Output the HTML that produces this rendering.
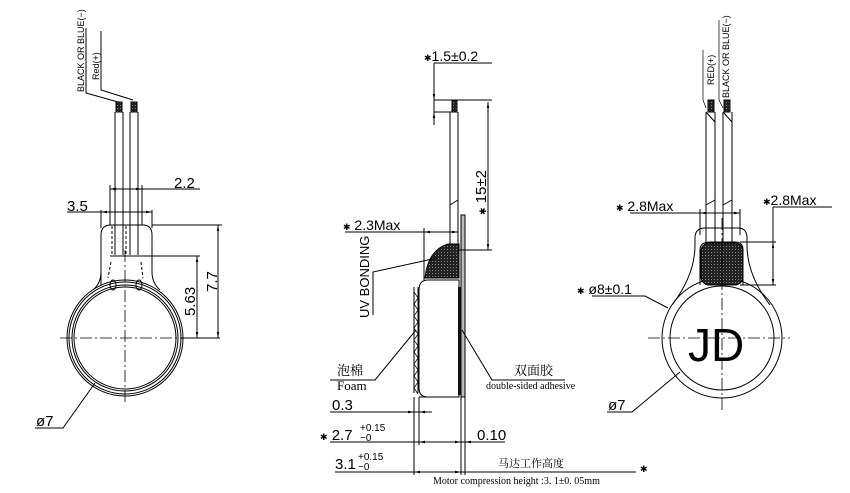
<!DOCTYPE html>
<html><head><meta charset="utf-8"><style>
html,body{margin:0;padding:0;background:#fff;width:850px;height:493px;overflow:hidden}
svg{display:block}
text{font-family:"Liberation Sans","Noto Sans CJK SC",sans-serif;fill:#000}
.s{font-family:"Liberation Serif","Noto Serif CJK SC",serif}
.k{font-size:9px}
</style></head><body>
<svg width="850" height="493" viewBox="0 0 850 493" xmlns="http://www.w3.org/2000/svg">
<defs>
<marker id="a" viewBox="0 0 10 10" refX="10" refY="5" markerWidth="6" markerHeight="6" orient="auto-start-reverse"><path d="M0,3 L10,5 L0,7z" fill="#000"/></marker>
<pattern id="h" width="3" height="3" patternUnits="userSpaceOnUse"><rect width="3" height="3" fill="#222"/><rect width="1" height="1" fill="#888"/></pattern>
</defs>
<g fill="none" stroke="#000" stroke-width="1">
<!-- LEFT VIEW -->
<path d="M86,28 V93 L118,102"/><path d="M101,31 V90 L133,100"/>
<rect x="116" y="102" width="6" height="10" fill="url(#h)"/><rect x="131" y="102" width="6" height="10" fill="url(#h)"/>
<path d="M115,112 V255 M123,112 V255 M130,112 V255 M138,112 V255"/>
<path d="M110,185 V225 M142,185 V225"/>
<path d="M110,189 H200" marker-start="url(#a)"/><path d="M142,189 H110" marker-end="url(#a)" marker-start="url(#a)"/>
<path d="M67,212 H152" /><path d="M101,212 H152" marker-start="url(#a)" marker-end="url(#a)"/>
<path d="M101,210 V228 M152,210 V228"/>
<path d="M101,285 V235 Q101,225 111,225 H143 Q152,225 152,235 V272 Q152,283 160,290"/>
<path d="M101,272 Q101,283 93,290"/>
<path d="M112,226 V255 M126,226 V255 M138,226 V255" stroke-dasharray="3,2"/>
<path d="M110,256 H142"/>
<circle cx="125" cy="338" r="58"/><circle cx="125" cy="338" r="56"/><circle cx="125" cy="338" r="53"/><circle cx="125" cy="338" r="51"/>
<ellipse cx="113" cy="285" rx="3" ry="5"/><ellipse cx="139" cy="285" rx="3" ry="5"/>
<path d="M111,262 L108,278 M141,262 L143,278" stroke-dasharray="3,2"/>
<path d="M125,250 V405 M60,338 H195" stroke-dasharray="12,3,2,3" stroke-width="0.8"/>
<path d="M152,225 H222 M140,256 H200 M180,338 H220"/>
<path d="M218,225 V338" marker-start="url(#a)" marker-end="url(#a)"/>
<path d="M197,256 V338" marker-start="url(#a)" marker-end="url(#a)"/>
<path d="M95,383 L63,428 H35"/>
<!-- MIDDLE VIEW -->
<rect x="452" y="100" width="5" height="12" fill="url(#h)"/>
<path d="M450,112 V245 M458,112 V245"/>
<path d="M450,205 L458,200"/>
<rect x="461" y="215" width="4" height="182" fill="#bbb"/>
<path d="M419,397 H459 V280 H428 Q419,280 419,290 V388 Q419,397 428,397Z"/>
<rect x="458" y="287" width="3" height="108" fill="#111" stroke="none"/>
<path d="M425,278 Q428,250 448,244 H459 V278Z" fill="url(#h)"/>
<path d="M414,287 V393 M418,287 V393"/>
<path d="M414,292 l4,6 l-4,6 l4,6 l-4,6 l4,6 l-4,6 l4,6 l-4,6 l4,6 l-4,6 l4,6 l-4,6 l4,6 l-4,6 l4,6 l-4,6 l4,6" stroke-width="0.7"/>
<path d="M434,63 H492 M434,63 V125"/>
<path d="M434,80 V100" marker-end="url(#a)"/><path d="M434,125 V112" marker-end="url(#a)"/>
<path d="M434,100 H492 M434,112 H452"/>
<path d="M488,102 V250" marker-start="url(#a)" marker-end="url(#a)"/>
<path d="M458,250 H492"/>
<path d="M345,232 H458"/><path d="M424,232 H458" marker-start="url(#a)" marker-end="url(#a)"/>
<path d="M424,228 V280"/>
<path d="M373,315 L373,272 L437,258"/>
<path d="M330,380 H375 L416,330"/>
<path d="M462,330 L492,380 H565"/>
<path d="M330,412 H432"/><path d="M400,412 H414" marker-end="url(#a)"/><path d="M432,412 H419" marker-end="url(#a)"/>
<path d="M414,397 V475 M419,397 V445 M461,397 V475 M465,397 V475"/>
<path d="M330,442 H505"/><path d="M419,442 H461" marker-start="url(#a)" marker-end="url(#a)"/><path d="M480,442 H465" marker-end="url(#a)"/>
<path d="M335,472 H636"/><path d="M414,472 H461" marker-start="url(#a)" marker-end="url(#a)"/>
<!-- RIGHT VIEW -->
<rect x="708" y="100" width="6" height="12" fill="url(#h)"/><rect x="724" y="100" width="6" height="12" fill="url(#h)"/>
<path d="M706,112 V245 M715,112 V245 M723,112 V245 M732,112 V245"/>
<path d="M706,112 L715,122 M723,112 L732,122"/>
<path d="M706,108 L703,100 V50 M723,108 L719,100 V20" stroke-width="0.7"/>
<path d="M706,205 L715,200 M723,205 L732,200"/>
<circle cx="722" cy="338" r="60"/><circle cx="722" cy="338" r="52"/>
<path d="M672,305 Q695,275 695,245 V238 Q695,228 705,228 H738 Q747,228 747,238 V245 Q747,275 770,305"/>
<path d="M700,285 V250 Q700,242 710,242 H735 Q743,242 743,250 V285"/>
<rect x="701" y="243" width="42" height="42" rx="8" fill="url(#h)"/>
<path d="M722,218 V410 M648,338 H790" stroke-dasharray="12,3,2,3" stroke-width="0.8"/>
<path d="M630,213 H700"/><path d="M700,213 H740" marker-start="url(#a)" marker-end="url(#a)"/>
<path d="M700,209 V235 M740,209 V235"/>
<path d="M773,207 H832 M773,207 V242"/>
<path d="M773,242 V285" marker-start="url(#a)" marker-end="url(#a)"/>
<path d="M740,242 H776 M740,285 H776"/>
<path d="M592,296 H645 L668,308"/>
<path d="M607,412 H632 L680,372"/>
</g>
<!-- TEXT -->
<text transform="translate(84,92) rotate(-90)" font-size="9">BLACK OR BLUE(−)</text>
<text transform="translate(99,80) rotate(-90)" font-size="9">Red(+)</text>
<text x="174" y="188" font-size="15">2.2</text>
<text x="67" y="211" font-size="15">3.5</text>
<text transform="translate(217,292) rotate(-90)" font-size="15">7.7</text>
<text transform="translate(195,316) rotate(-90)" font-size="15">5.63</text>
<text x="36" y="426" font-size="15">ø7</text>
<text x="424" y="61" font-size="14"><tspan class="k">✱</tspan>1.5±0.2</text>
<text transform="translate(486,215) rotate(-90)" font-size="15"><tspan class="k">✱</tspan> 15±2</text>
<text x="343" y="230" font-size="14"><tspan class="k">✱</tspan> 2.3Max</text>
<text transform="translate(369,318) rotate(-90)" font-size="13">UV BONDING</text>
<text x="337" y="375" font-size="13" class="s">泡棉</text>
<text x="337" y="390" font-size="13" class="s">Foam</text>
<text x="514" y="375" font-size="13" class="s">双面胶</text>
<text x="486" y="389" font-size="10" class="s">double-sided adhesive</text>
<text x="332" y="410" font-size="15">0.3</text>
<text x="320" y="440" font-size="15"><tspan class="k">✱</tspan> 2.7</text><text x="360" y="431" font-size="10">+0.15</text><text x="360" y="441" font-size="10">−0</text>
<text x="477" y="440" font-size="15">0.10</text>
<text x="335" y="469" font-size="15">3.1</text><text x="358" y="460" font-size="10">+0.15</text><text x="358" y="470" font-size="10">−0</text>
<text x="498" y="467" font-size="11" class="s">马达工作高度</text>
<text x="433" y="484" font-size="10" class="s">Motor compression height  :3. 1±0. 05mm</text>
<text x="640" y="472" font-size="9">✱</text>
<text transform="translate(714,85) rotate(-90)" font-size="9">RED(+)</text>
<text transform="translate(729,98) rotate(-90)" font-size="9">BLACK OR BLUE(−)</text>
<text x="616" y="211" font-size="14"><tspan class="k">✱</tspan> 2.8Max</text>
<text x="763" y="205" font-size="14"><tspan class="k">✱</tspan>2.8Max</text>
<text x="577" y="294" font-size="14"><tspan class="k">✱</tspan> ø8±0.1</text>
<text x="608" y="410" font-size="15">ø7</text>
<text x="688" y="361" font-size="46">JD</text>
</svg>
</body></html>
